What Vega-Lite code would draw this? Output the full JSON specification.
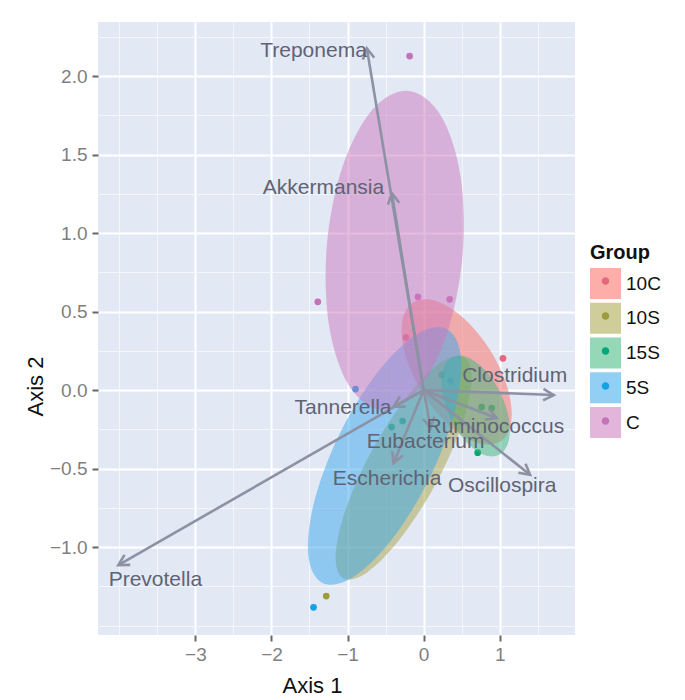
{
  "$schema": "https://vega.github.io/schema/vega-lite/v6.json",
  "width": 477,
  "height": 613,
  "autosize": "none",
  "padding": {"left": 98, "top": 22, "right": 110, "bottom": 65},
  "background": "white",
  "config": {
    "font": "Liberation Sans",
    "view": {"fill": "#E3E9F4", "stroke": null}
  },
  "datasets": {
    "samples": [
      {"Group": "C", "x": -0.184, "y": 2.127},
      {"Group": "C", "x": -1.391, "y": 0.562},
      {"Group": "C", "x": -0.075, "y": 0.594},
      {"Group": "C", "x": 0.342, "y": 0.578},
      {"Group": "C", "x": -0.233, "y": 0.336},
      {"Group": "10C", "x": 1.043, "y": 0.202},
      {"Group": "10S", "x": -1.28, "y": -1.312},
      {"Group": "15S", "x": 0.711, "y": -0.399},
      {"Group": "15S", "x": 0.237, "y": 0.096},
      {"Group": "15S", "x": -0.421, "y": -0.236},
      {"Group": "15S", "x": -0.276, "y": -0.197},
      {"Group": "15S", "x": 0.763, "y": -0.108},
      {"Group": "15S", "x": 0.895, "y": -0.115},
      {"Group": "5S", "x": -1.447, "y": -1.384},
      {"Group": "5S", "x": -0.895, "y": 0.006},
      {"Group": "5S", "x": 0.355, "y": 0.057}
    ],
    "ellipses": [
      {"Group": "10C", "i": 0, "x": 1.006, "y": -0.328},
      {"Group": "10C", "i": 1, "x": 0.706, "y": -0.337},
      {"Group": "10C", "i": 2, "x": 0.334, "y": -0.224},
      {"Group": "10C", "i": 3, "x": -0.012, "y": -0.020},
      {"Group": "10C", "i": 4, "x": -0.238, "y": 0.220},
      {"Group": "10C", "i": 5, "x": -0.284, "y": 0.431},
      {"Group": "10C", "i": 6, "x": -0.138, "y": 0.558},
      {"Group": "10C", "i": 7, "x": 0.162, "y": 0.567},
      {"Group": "10C", "i": 8, "x": 0.534, "y": 0.454},
      {"Group": "10C", "i": 9, "x": 0.880, "y": 0.250},
      {"Group": "10C", "i": 10, "x": 1.106, "y": 0.010},
      {"Group": "10C", "i": 11, "x": 1.152, "y": -0.201},
      {"Group": "10S", "i": 0, "x": 0.528, "y": 0.211},
      {"Group": "10S", "i": 1, "x": 0.630, "y": 0.062},
      {"Group": "10S", "i": 2, "x": 0.493, "y": -0.235},
      {"Group": "10S", "i": 3, "x": 0.153, "y": -0.603},
      {"Group": "10S", "i": 4, "x": -0.299, "y": -0.941},
      {"Group": "10S", "i": 5, "x": -0.740, "y": -1.160},
      {"Group": "10S", "i": 6, "x": -1.054, "y": -1.199},
      {"Group": "10S", "i": 7, "x": -1.156, "y": -1.050},
      {"Group": "10S", "i": 8, "x": -1.019, "y": -0.753},
      {"Group": "10S", "i": 9, "x": -0.679, "y": -0.385},
      {"Group": "10S", "i": 10, "x": -0.227, "y": -0.047},
      {"Group": "10S", "i": 11, "x": 0.214, "y": 0.172},
      {"Group": "15S", "i": 0, "x": 0.985, "y": -0.414},
      {"Group": "15S", "i": 1, "x": 0.778, "y": -0.410},
      {"Group": "15S", "i": 2, "x": 0.546, "y": -0.323},
      {"Group": "15S", "i": 3, "x": 0.350, "y": -0.177},
      {"Group": "15S", "i": 4, "x": 0.244, "y": -0.011},
      {"Group": "15S", "i": 5, "x": 0.256, "y": 0.130},
      {"Group": "15S", "i": 6, "x": 0.383, "y": 0.210},
      {"Group": "15S", "i": 7, "x": 0.590, "y": 0.206},
      {"Group": "15S", "i": 8, "x": 0.822, "y": 0.119},
      {"Group": "15S", "i": 9, "x": 1.018, "y": -0.027},
      {"Group": "15S", "i": 10, "x": 1.124, "y": -0.193},
      {"Group": "15S", "i": 11, "x": 1.112, "y": -0.334},
      {"Group": "5S", "i": 0, "x": 0.303, "y": 0.389},
      {"Group": "5S", "i": 1, "x": 0.490, "y": 0.211},
      {"Group": "5S", "i": 2, "x": 0.408, "y": -0.136},
      {"Group": "5S", "i": 3, "x": 0.079, "y": -0.560},
      {"Group": "5S", "i": 4, "x": -0.408, "y": -0.946},
      {"Group": "5S", "i": 5, "x": -0.924, "y": -1.191},
      {"Group": "5S", "i": 6, "x": -1.329, "y": -1.229},
      {"Group": "5S", "i": 7, "x": -1.516, "y": -1.051},
      {"Group": "5S", "i": 8, "x": -1.434, "y": -0.704},
      {"Group": "5S", "i": 9, "x": -1.105, "y": -0.280},
      {"Group": "5S", "i": 10, "x": -0.618, "y": 0.106},
      {"Group": "5S", "i": 11, "x": -0.102, "y": 0.351},
      {"Group": "C", "i": 0, "x": -0.197, "y": 1.905},
      {"Group": "C", "i": 1, "x": 0.224, "y": 1.750},
      {"Group": "C", "i": 2, "x": 0.484, "y": 1.365},
      {"Group": "C", "i": 3, "x": 0.511, "y": 0.852},
      {"Group": "C", "i": 4, "x": 0.300, "y": 0.349},
      {"Group": "C", "i": 5, "x": -0.092, "y": -0.008},
      {"Group": "C", "i": 6, "x": -0.563, "y": -0.125},
      {"Group": "C", "i": 7, "x": -0.984, "y": 0.030},
      {"Group": "C", "i": 8, "x": -1.244, "y": 0.415},
      {"Group": "C", "i": 9, "x": -1.271, "y": 0.928},
      {"Group": "C", "i": 10, "x": -1.060, "y": 1.431},
      {"Group": "C", "i": 11, "x": -0.668, "y": 1.788}
    ],
    "taxa": [
      {"taxon": "Treponema", "x": -0.746, "y": 2.176, "lx": -1.447, "ly": 2.161},
      {"taxon": "Akkermansia", "x": -0.417, "y": 1.253, "lx": -1.316, "ly": 1.285},
      {"taxon": "Clostridium", "x": 1.711, "y": -0.032, "lx": 1.197, "ly": 0.089},
      {"taxon": "Tannerella", "x": -0.395, "y": -0.106, "lx": -1.059, "ly": -0.115},
      {"taxon": "Ruminococcus", "x": 0.96, "y": -0.178, "lx": 0.943, "ly": -0.234},
      {"taxon": "Eubacterium", "x": 0.092, "y": -0.242, "lx": 0.026, "ly": -0.331},
      {"taxon": "Escherichia", "x": -0.395, "y": -0.465, "lx": -0.48, "ly": -0.567},
      {"taxon": "Oscillospira", "x": 1.40, "y": -0.54, "lx": 1.033, "ly": -0.611},
      {"taxon": "Prevotella", "x": -4.013, "y": -1.115, "lx": -3.526, "ly": -1.21}
    ]
  },
  "layer": [
    {
      "data": {"name": "samples"},
      "mark": {"type": "circle", "size": 45, "opacity": 1},
      "encoding": {
        "x": {"field": "x", "type": "quantitative",
          "scale": {"domain": [-4.28, 1.99], "nice": false, "zero": false},
          "axis": {"values": [-3, -2, -1, 0, 1], "format": "d", "title": "Axis 1",
            "grid": true, "gridColor": "white", "gridWidth": 2, "domain": false,
            "tickColor": "#666666", "tickSize": 6, "tickWidth": 2,
            "labelFontSize": 19, "labelColor": "#7F7F7F", "labelPadding": 4,
            "titleFontSize": 22, "titleFontWeight": "normal", "titleColor": "#111111",
            "titleX": 214, "titleY": 50, "titleBaseline": "middle", "titleAlign": "center"}},
        "y": {"field": "y", "type": "quantitative",
          "scale": {"domain": [-1.56, 2.344], "nice": false, "zero": false},
          "axis": {"values": [-1, -0.5, 0, 0.5, 1, 1.5, 2], "format": ".1f", "title": "Axis 2",
            "grid": true, "gridColor": "white", "gridWidth": 2, "domain": false,
            "tickColor": "#666666", "tickSize": 6, "tickWidth": 2,
            "labelFontSize": 19, "labelColor": "#7F7F7F", "labelPadding": 5,
            "titleFontSize": 22, "titleFontWeight": "normal", "titleColor": "#111111",
            "titleX": -63, "titleY": 364, "titleAngle": 270, "titleBaseline": "middle", "titleAlign": "center"}},
        "color": {"field": "Group", "type": "nominal",
          "scale": {"domain": ["10C", "10S", "15S", "5S", "C"],
            "range": ["#E5687C", "#9C9C3E", "#00A877", "#12A2E6", "#C472BA"]},
          "legend": {"orient": "none", "legendX": 492, "legendY": 243.5, "padding": 0,
            "title": null, "labelExpr": "''", "labelFontSize": 19, "labelOffset": 5,
            "rowPadding": 9, "symbolSize": 961, "symbolStrokeWidth": 0, "symbolOpacity": 1,
            "symbolType": "M 0 -0.24 A 0.24 0.24 0 1 1 0 0.24 A 0.24 0.24 0 1 1 0 -0.24 Z",
            "zindex": 2}}
      }
    },
    {
      "data": {"name": "ellipses"},
      "mark": {"type": "line", "interpolate": "cardinal-closed", "filled": true, "fillOpacity": 0.5, "strokeWidth": 0, "strokeOpacity": 0},
      "encoding": {
        "x": {"field": "x", "type": "quantitative", "scale": {"domain": [-4.28, 1.99], "nice": false, "zero": false}, "axis": null},
        "y": {"field": "y", "type": "quantitative", "scale": {"domain": [-1.56, 2.344], "nice": false, "zero": false}, "axis": null},
        "fill": {"field": "Group", "type": "nominal",
          "scale": {"range": ["#FB6C62", "#A8A446", "#3DB87E", "#3AA6EC", "#CC78BE"]},
          "legend": {"orient": "none", "legendX": 492, "legendY": 221, "padding": 0,
            "title": "Group", "titleFontSize": 20, "titleFontWeight": "bold", "titleColor": "#111111",
            "titlePadding": 5, "labelFontSize": 19, "labelColor": "#111111", "labelOffset": 5,
            "rowPadding": 3.75, "symbolSize": 961, "symbolStrokeWidth": 0, "symbolOpacity": 0.55,
            "symbolType": "square", "zindex": 1}},
        "order": {"field": "i", "type": "quantitative"}
      }
    },
    {
      "data": {"name": "taxa"},
      "mark": {"type": "rule", "color": "#8C91A3", "strokeWidth": 2.6},
      "encoding": {
        "x": {"field": "x", "type": "quantitative",
          "scale": {"domain": [-4.28, 1.99], "nice": false, "zero": false},
          "axis": {"orient": "top", "values": [-4, -3.5, -2.5, -1.5, -0.5, 0.5, 1.5], "grid": true,
            "gridColor": "#F3F6FB", "gridWidth": 1, "labels": false, "ticks": false, "domain": false, "title": null}},
        "y": {"field": "y", "type": "quantitative",
          "scale": {"domain": [-1.56, 2.344], "nice": false, "zero": false},
          "axis": {"orient": "right", "values": [-1.5, -1.25, -0.75, -0.25, 0.25, 0.75, 1.25, 1.75, 2.25], "grid": true,
            "gridColor": "#F3F6FB", "gridWidth": 1, "labels": false, "ticks": false, "domain": false, "title": null}},
        "x2": {"datum": 0},
        "y2": {"datum": 0}
      }
    },
    {
      "data": {"name": "taxa"},
      "mark": {"type": "point", "shape": "M -1 -0.55 L 0 0 L -1 0.55", "filled": false, "size": 440,
        "strokeWidth": 2.6, "color": "#8C91A3", "opacity": 1,
        "angle": {"expr": "atan2(scale('y', datum.y) - scale('y', 0), scale('x', datum.x) - scale('x', 0)) * 180 / PI"}},
      "encoding": {
        "x": {"field": "x", "type": "quantitative", "scale": {"domain": [-4.28, 1.99], "nice": false, "zero": false}, "axis": null},
        "y": {"field": "y", "type": "quantitative", "scale": {"domain": [-1.56, 2.344], "nice": false, "zero": false}, "axis": null}
      }
    },
    {
      "data": {"name": "taxa"},
      "mark": {"type": "text", "fontSize": 21, "color": "#5F6374", "align": "center", "baseline": "middle"},
      "encoding": {
        "x": {"field": "lx", "type": "quantitative", "scale": {"domain": [-4.28, 1.99], "nice": false, "zero": false}, "axis": null},
        "y": {"field": "ly", "type": "quantitative", "scale": {"domain": [-1.56, 2.344], "nice": false, "zero": false}, "axis": null},
        "text": {"field": "taxon"}
      }
    }
  ],
  "resolve": {"axis": {"x": "independent", "y": "independent"}}
}
